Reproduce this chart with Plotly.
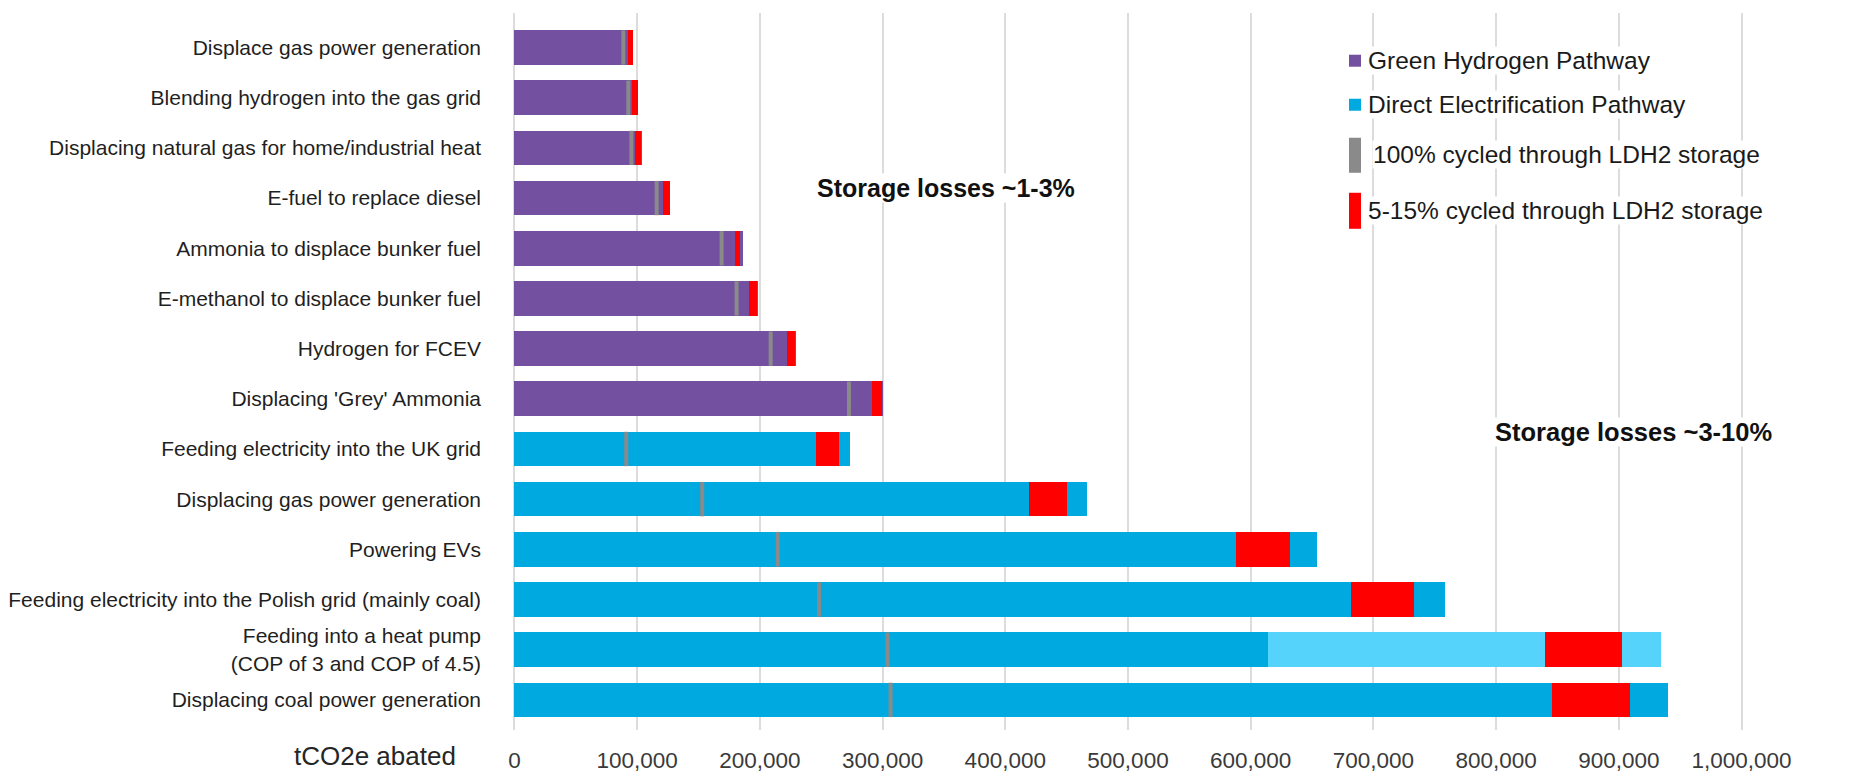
import plotly.graph_objects as go

# ---- data -------------------------------------------------------------
categories = [
    "Displace gas power generation",
    "Blending hydrogen into the gas grid",
    "Displacing natural gas for home/industrial heat",
    "E-fuel to replace diesel",
    "Ammonia to displace bunker fuel",
    "E-methanol to displace bunker fuel",
    "Hydrogen for FCEV",
    "Displacing 'Grey' Ammonia",
    "Feeding electricity into the UK grid",
    "Displacing gas power generation",
    "Powering EVs",
    "Feeding electricity into the Polish grid (mainly coal)",
    "Feeding into a heat pump<br>(COP of 3 and COP of 4.5)",
    "Displacing coal power generation",
]
hydrogen_cats = categories[:8]
electric_cats = categories[8:]

# tCO2e abated without storage
hydrogen_abated = [96500, 101000, 103700, 126700, 186300, 198700, 229400, 300300]
electric_abated = [273700, 466600, 654200, 758600, 613800, 940100]   # heat pump: COP of 3
heat_pump_cop45 = 934200                                               # heat pump: COP of 4.5

# abatement when 100% of output is cycled through LDH2 storage
full_cycled = [88700, 92800, 95300, 115900, 168800, 181000, 208800, 272600,
               91100, 153000, 214500, 248300, 304000, 306500]

# range when 5-15% of output is cycled through LDH2 storage
partial_low = [92700, 95500, 97900, 121300, 179700, 191400, 222000, 291300,
               245700, 419300, 588300, 681500, 840200, 845600]
partial_high = [96500, 100900, 103400, 126700, 183800, 197900, 228600, 299300,
                264700, 450300, 632300, 733100, 902900, 909100]

x_ticks = list(range(0, 1000001, 100000))

# ---- styling ----------------------------------------------------------
PURPLE = "#7451a0"
BLUE = "#00a9e0"
LIGHT_BLUE = "#55d3fb"
GREY = "#8a8a8a"
RED = "#ff0000"
FONT = "Arial, 'Liberation Sans', sans-serif"
BAR_W = 0.69

# plot-area geometry (pixels) used for the paper-positioned decorations
W, H = 1862, 773
L, R, T, B = 512.05, 1743.95, 13.3, 730.0


def px(xpix):
    return (xpix - L) / (R - L)


def py(ypix):
    return (B - ypix) / (B - T)


fig = go.Figure()

fig.add_trace(go.Bar(
    y=hydrogen_cats, x=hydrogen_abated, orientation="h", width=BAR_W,
    marker=dict(color=PURPLE, line=dict(width=0)), name="Green Hydrogen Pathway",
    showlegend=False,
))
fig.add_trace(go.Bar(
    y=electric_cats, x=electric_abated, orientation="h", width=BAR_W,
    marker=dict(color=BLUE, line=dict(width=0)), name="Direct Electrification Pathway",
    showlegend=False,
))
# heat pump: extra abatement at COP of 4.5 beyond COP of 3
hp_idx = electric_cats.index(categories[12])
fig.add_trace(go.Bar(
    y=[categories[12]], x=[heat_pump_cop45 - electric_abated[hp_idx]],
    base=[electric_abated[hp_idx]], orientation="h", width=BAR_W,
    marker=dict(color=LIGHT_BLUE, line=dict(width=0)), showlegend=False,
))
# 5-15% cycled range
fig.add_trace(go.Bar(
    y=categories, x=[h - l for h, l in zip(partial_high, partial_low)],
    base=partial_low, orientation="h", width=BAR_W,
    marker=dict(color=RED, line=dict(width=0)), showlegend=False,
))
# 100% cycled marker
fig.add_trace(go.Scatter(
    y=categories, x=full_cycled, mode="markers",
    marker=dict(symbol="line-ns", size=24.5, color=GREY,
                line=dict(color=GREY, width=4)),
    showlegend=False, cliponaxis=False,
))

# ---- legend (drawn as keys + labels) -----------------------------------
legend_items = [
    ("Green Hydrogen Pathway", PURPLE, 55, 67, 1367, 61),
    ("Direct Electrification Pathway", BLUE, 99, 111, 1367, 105),
    ("100% cycled through LDH2 storage", GREY, 138, 173, 1372, 155),
    ("5-15% cycled through LDH2 storage", RED, 193, 229, 1367, 211),
]
shapes = []
annotations = []
for text, color, y0, y1, tx, ty in legend_items:
    shapes.append(dict(type="rect", xref="paper", yref="paper",
                       x0=px(1349), x1=px(1361), y0=py(y1), y1=py(y0),
                       fillcolor=color, line=dict(width=0), layer="above"))
    annotations.append(dict(text=text, xref="paper", yref="paper",
                            x=px(tx), y=py(ty), xanchor="left", yanchor="middle",
                            showarrow=False, bgcolor="white", borderpad=0,
                            font=dict(family=FONT, size=24.5, color="#1a1a1a")))

annotations.append(dict(text="<b>Storage losses ~1-3%</b>", xref="paper", yref="paper",
                        x=px(816), y=py(188), xanchor="left", yanchor="middle",
                        showarrow=False, bgcolor="white", borderpad=0,
                        font=dict(family=FONT, size=25, color="#111111")))
annotations.append(dict(text="<b>Storage losses ~3-10%</b>", xref="paper", yref="paper",
                        x=px(1494), y=py(432), xanchor="left", yanchor="middle",
                        showarrow=False, bgcolor="white", borderpad=0,
                        font=dict(family=FONT, size=25.5, color="#111111")))
annotations.append(dict(text="tCO2e abated", xref="paper", yref="paper",
                        x=px(458), y=py(756), xanchor="right", yanchor="middle",
                        showarrow=False,
                        font=dict(family=FONT, size=26, color="#262626")))

fig.update_layout(
    width=W, height=H,
    margin=dict(l=L, r=W - R, t=T, b=H - B, pad=0, autoexpand=False),
    paper_bgcolor="white", plot_bgcolor="white",
    barmode="overlay",
    bargap=0,
    showlegend=False,
    shapes=shapes,
    annotations=annotations,
    font=dict(family=FONT, color="#262626"),
)
fig.update_xaxes(
    automargin=False,
    range=[-2000, 1002000],
    tickvals=x_ticks, tickformat=",d",
    showgrid=True, gridcolor="#dcdcdc", gridwidth=1.6,
    zeroline=False, showline=False,
    ticks="outside", ticklen=0, ticklabelstandoff=10,
    tickfont=dict(family=FONT, size=22.5, color="#3a3a3a"),
)
fig.update_yaxes(
    automargin=False,
    type="category", categoryorder="array", categoryarray=categories,
    range=[13.6, -0.688],
    showgrid=False, zeroline=False, showline=False,
    ticks="", ticklabelstandoff=30,
    tickfont=dict(family=FONT, size=21, color="#1f1f1f"),
)

fig.write_html("out.html")
